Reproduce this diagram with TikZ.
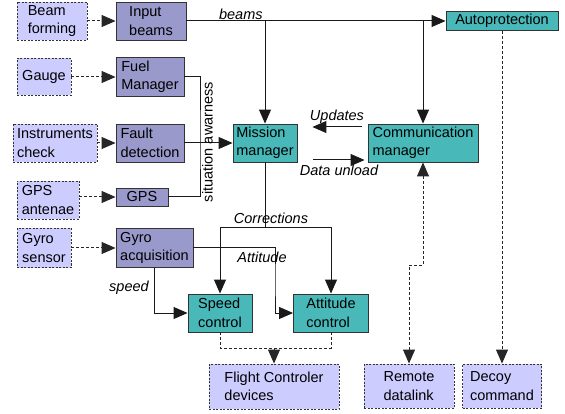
\documentclass[tikz,border=0pt]{standalone}
\usepackage{fontspec}
\setmainfont{Liberation Sans}
\usepackage{tikz}
\usetikzlibrary{arrows.meta, positioning}

\definecolor{sensorfill}{HTML}{CCCCFF}
\definecolor{unitfill}{HTML}{9999CC}
\definecolor{mgrfill}{HTML}{48B8B8}

\begin{document}
\begin{tikzpicture}[x=1pt, y=-1pt,
    font=\fontsize{14.5}{18.5}\selectfont,
    base/.style={align=left, inner sep=2pt},
    sensor/.style={base, fill=sensorfill, draw=black!80, line width=0.9pt, dash pattern=on 2pt off 1.5pt},
    unit/.style={base, fill=unitfill, draw=black!80, line width=0.9pt},
    mgr/.style={base, fill=mgrfill, draw=black!80, line width=0.9pt},
    link/.style={draw=black!90, line width=1pt},
    tip/.tip={Triangle[length=14pt, width=12pt]},
    arr/.style={link, -tip},
    dotlink/.style={draw=black!85, line width=1pt, dash pattern=on 3pt off 2pt},
    dotarr/.style={dotlink, -tip},
    lbl/.style={font=\fontsize{14.5}{18.5}\selectfont\itshape, inner sep=1pt}]

    \useasboundingbox (0,0) rectangle (565,414);

    % Sensors on the left
    \node[sensor, minimum width=70, minimum height=38] (beamform) at (52,21) {Beam\\forming};
    \node[sensor, minimum width=54, minimum height=37] (gauge) at (44,77) {Gauge};
    \node[sensor, minimum width=84, minimum height=38] (instr) at (55,143) {Instruments\\check};
    \node[sensor, minimum width=62, minimum height=38] (gpsant) at (48,200) {GPS\\antenae};
    \node[sensor, minimum width=54, minimum height=39] (gyrosens) at (44,248) {Gyro\\sensor};

    % Acquisition units
    \node[unit, minimum width=70, minimum height=38] (inbeams) at (151,21) {Input\\beams};
    \node[unit, minimum width=68, minimum height=39] (fuel) at (150,77) {Fuel\\Manager};
    \node[unit, minimum width=68, minimum height=38] (fault) at (150,143) {Fault\\detection};
    \node[unit, minimum width=52, minimum height=18] (gps) at (142,197) {GPS};
    \node[unit, minimum width=77, minimum height=39] (gyroacq) at (154.5,248) {Gyro\\acquisition};

    % Managers and controls
    \node[mgr, minimum width=64, minimum height=38] (mission) at (265,143) {Mission\\manager};
    \node[mgr, minimum width=110, minimum height=38] (comm) at (423,143) {Communication\\manager};
    \node[mgr, minimum width=112, minimum height=19] (autop) at (502,21) {Autoprotection};
    \node[mgr, minimum width=64, minimum height=38] (speed) at (220,313) {Speed\\control};
    \node[mgr, minimum width=75, minimum height=38] (attitude) at (331,313) {Attitude\\control};

    % Devices at the bottom
    \node[sensor, minimum width=130, minimum height=45] (flight) at (274,386.5) {Flight Controler\\devices};
    \node[sensor, minimum width=90, minimum height=44] (remote) at (409,386) {Remote\\datalink};
    \node[sensor, minimum width=79, minimum height=44] (decoy) at (502,386) {Decoy\\command};

    % Sensor inputs
    \draw[dotarr] (beamform) -- (inbeams);
    \draw[dotarr] (gauge) -- (fuel);
    \draw[dotarr] (instr) -- (fault);
    \draw[dotarr] (gpsant.east |- gps.west) -- (gps);
    \draw[dotarr] (gyrosens) -- (gyroacq);

    % Beams bus
    \draw[arr] (inbeams) -- node[lbl, above, pos=0.21] {beams} (autop);
    \coordinate (beamsm) at (mission.north |- inbeams.east);
    \coordinate (beamsc) at (comm.north |- inbeams.east);
    \draw[arr] (beamsm) -- (mission);
    \draw[arr] (beamsc) -- (comm);

    % Situation awarness
    \coordinate (sa) at (200,143);
    \draw[link] (fuel.east) -| (sa) |- (gps.east);
    \draw[arr] (fault) -- (mission);
    \node[rotate=90, inner sep=0pt] at (207.5,142) {situation awarness};

    % Mission <-> communication
    \draw[arr] ([shift={(-6,-16)}]comm.west) -- node[lbl, above=2pt] {Updates} ([shift={(15,-16)}]mission.east);
    \draw[arr] ([shift={(16,17)}]mission.east) -- node[lbl, below=3pt] {Data unload} ([shift={(-3,17)}]comm.west);

    % Corrections
    \coordinate (corr) at (265,228);
    \draw[link] (mission) -- (corr);
    \draw[arr] (corr) -| (speed.north);
    \draw[arr] (corr) -| (attitude.north);
    \node[lbl] at (271,218) {Corrections};

    % Gyro outputs
    \coordinate (gyroturn) at (275,280);
    \draw[arr] (gyroacq.east) -| (gyroturn) |- (attitude.west);
    \node[lbl] at (262,257) {Attitude};
    \draw[arr] (gyroacq.south) |- (speed.west);
    \node[lbl] at (129,288) {speed};

    % Outputs to devices
    \coordinate (fc) at (flight.north |- 0,348);
    \draw[dotlink] (speed.south) |- (fc) -| (attitude.south);
    \draw[dotarr] (fc) -- (flight);
    \coordinate (rdturn) at (comm.south |- 0,265);
    \draw[dotlink, tip-tip] (comm.south) -- (rdturn) -| (remote.north);
    \draw[dotarr] (autop) -- (decoy);

\end{tikzpicture}
\end{document}
